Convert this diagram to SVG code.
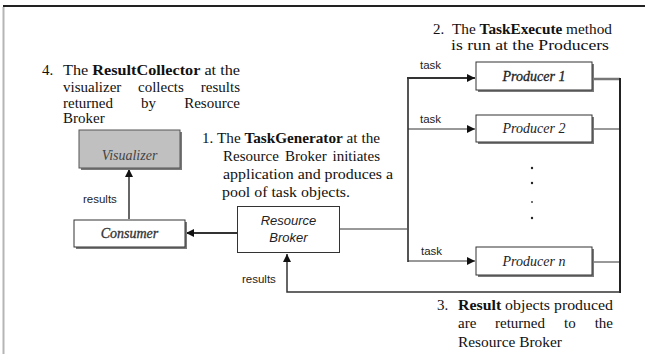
<svg xmlns="http://www.w3.org/2000/svg" width="645" height="354" viewBox="0 0 645 354">
<style>
.t{font-family:"Liberation Serif","Times New Roman",serif;font-size:15px;fill:#111}
.b{font-weight:bold}
.lbl{font-family:"Liberation Sans",Arial,sans-serif;font-size:11.5px;fill:#222}
.nd{font-family:"Liberation Serif","Times New Roman",serif;font-style:italic;font-size:14px;fill:#222;text-anchor:middle}
.ns{font-family:"Liberation Sans",Arial,sans-serif;font-style:italic;font-size:13px;fill:#222;text-anchor:middle}
.box{fill:#fff;stroke:#333;stroke-width:1}
.sh{fill:#7a7a7a}
.c{fill:none;stroke:#333;stroke-width:1}
</style>
<defs>
<marker id="ah" viewBox="0 0 10 10" refX="10" refY="5" markerWidth="9" markerHeight="8" markerUnits="userSpaceOnUse" orient="auto">
<path d="M0,0 L10,5 L0,10 z" fill="#111"/>
</marker>
</defs>
<rect width="645" height="354" fill="#fff"/>
<line x1="3" y1="6" x2="645" y2="6" stroke="#222" stroke-width="2"/>
<line x1="3.5" y1="7" x2="3.5" y2="354" stroke="#b5b5b5" stroke-width="2"/>

<g id="note4">
<text class="t" x="42" y="75">4.</text>
<text class="t" x="63" y="75" textLength="177" lengthAdjust="spacingAndGlyphs">The <tspan class="b">ResultCollector</tspan> at the</text>
<text class="t" x="63" y="92">visualizer</text><text class="t" x="138" y="92">collects</text><text class="t" x="240" y="92" text-anchor="end">results</text>
<text class="t" x="63" y="108">returned</text><text class="t" x="141" y="108">by</text><text class="t" x="240" y="108" text-anchor="end">Resource</text>
<text class="t" x="63" y="123">Broker</text>
</g>

<g id="note1">
<text class="t" x="202" y="143">1.</text>
<text class="t" x="217" y="143" textLength="163" lengthAdjust="spacingAndGlyphs">The <tspan class="b">TaskGenerator</tspan> at the</text>
<text class="t" x="223" y="161">Resource</text><text class="t" x="285" y="161">Broker</text><text class="t" x="380" y="161" text-anchor="end">initiates</text>
<text class="t" x="223" y="179" textLength="170" lengthAdjust="spacingAndGlyphs">application and produces a</text>
<text class="t" x="222" y="197" textLength="128" lengthAdjust="spacingAndGlyphs">pool of task objects.</text>
</g>

<g id="note2">
<text class="t" x="433" y="34">2.</text>
<text class="t" x="452" y="34" textLength="160" lengthAdjust="spacingAndGlyphs">The <tspan class="b">TaskExecute</tspan> method</text>
<text class="t" x="451" y="50" textLength="158" lengthAdjust="spacingAndGlyphs">is run at the Producers</text>
</g>

<g id="note3">
<text class="t" x="437" y="310">3.</text>
<text class="t" x="458" y="310" textLength="155" lengthAdjust="spacingAndGlyphs"><tspan class="b">Result</tspan> objects produced</text>
<text class="t" x="458" y="328">are</text><text class="t" x="495" y="328">returned</text><text class="t" x="564" y="328">to</text><text class="t" x="613" y="328" text-anchor="end">the</text>
<text class="t" x="458" y="347" textLength="104" lengthAdjust="spacingAndGlyphs">Resource Broker</text>
</g>

<g id="connectors">
<line class="c" x1="129" y1="219" x2="129" y2="169" style="stroke:#666;stroke-width:2" marker-end="url(#ah)"/>
<line class="c" x1="237" y1="233" x2="186" y2="233" style="stroke-width:2" marker-end="url(#ah)"/>
<line class="c" x1="340" y1="229" x2="408" y2="229"/>
<line class="c" x1="408" y1="77" x2="408" y2="262" style="stroke:#555;stroke-width:2"/>
<line class="c" x1="407" y1="78" x2="475" y2="78" style="stroke-width:2" marker-end="url(#ah)"/>
<line class="c" x1="408" y1="129" x2="475" y2="129" marker-end="url(#ah)"/>
<line class="c" x1="408" y1="261" x2="475" y2="261" marker-end="url(#ah)"/>
<line class="c" x1="593" y1="79" x2="620" y2="79" style="stroke:#777;stroke-width:2.5"/>
<line class="c" x1="593" y1="129" x2="620" y2="129"/>
<line class="c" x1="593" y1="262" x2="620" y2="262"/>
<line class="c" x1="620" y1="78" x2="620" y2="293" style="stroke:#222;stroke-width:2"/>
<polyline class="c" points="620,292 287,292 287,254" style="stroke-width:1.5" marker-end="url(#ah)"/>
<text class="lbl" x="83" y="203">results</text>
<text class="lbl" x="242" y="283">results</text>
<text class="lbl" x="420" y="69">task</text>
<text class="lbl" x="420" y="123">task</text>
<text class="lbl" x="421" y="255">task</text>
<circle cx="532" cy="168" r="1.2" fill="#222"/>
<circle cx="532" cy="183" r="1.2" fill="#222"/>
<circle cx="532" cy="202" r="1" fill="#444"/>
<circle cx="532" cy="218" r="1.2" fill="#222"/>
</g>

<g id="visualizer">
<rect class="sh" x="81" y="132" width="101" height="38"/>
<rect x="79" y="130" width="101" height="38" fill="#c0c0c0" stroke="#555" stroke-width="1"/>
<text class="nd" x="129.5" y="160" style="fill:#444">Visualizer</text>
</g>

<g id="consumer">
<rect class="sh" x="76" y="222" width="111" height="27"/>
<rect class="box" x="74" y="220" width="111" height="27"/>
<text class="nd" x="129.5" y="238" style="fill:#333;stroke:#333;stroke-width:0.3">Consumer</text>
</g>

<g id="broker">
<rect class="box" x="237.5" y="206.5" width="102" height="46"/>
<text class="ns" x="288.5" y="225">Resource</text>
<text class="ns" x="288.5" y="242">Broker</text>
</g>

<g id="producer1">
<rect class="sh" x="478" y="64" width="116" height="28"/>
<rect class="box" x="476" y="62" width="116" height="28"/>
<text class="nd" x="534" y="81" style="fill:#222;stroke:#222;stroke-width:0.3">Producer 1</text>
</g>

<g id="producer2">
<rect class="sh" x="478" y="117" width="116" height="27"/>
<rect class="box" x="476" y="115" width="116" height="27"/>
<text class="nd" x="534" y="133">Producer 2</text>
</g>

<g id="producern">
<rect class="sh" x="478" y="249" width="116" height="28"/>
<rect class="box" x="476" y="247" width="116" height="28"/>
<text class="nd" x="534" y="266">Producer n</text>
</g>
</svg>
